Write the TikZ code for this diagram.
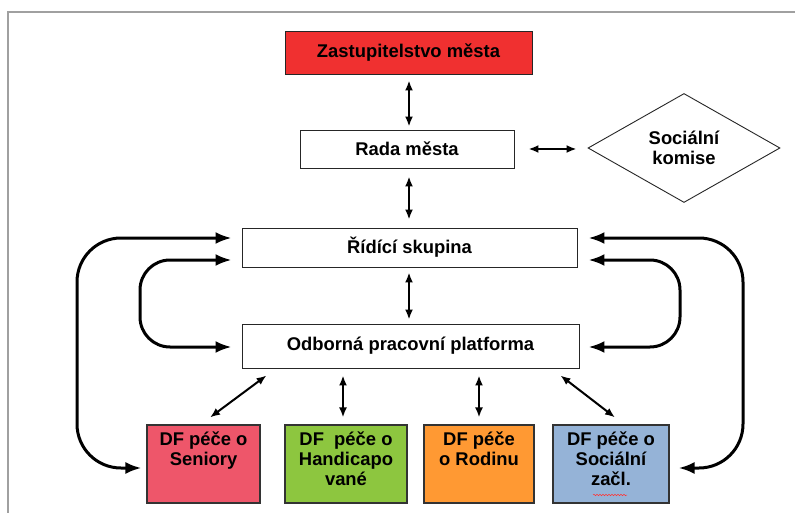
\documentclass[tikz,border=0pt]{standalone}
\usepackage{fontspec}
\setmainfont{Liberation Sans}
\usetikzlibrary{arrows.meta,shapes.geometric,calc,decorations.pathmorphing}
\definecolor{cRed}{RGB}{240,48,48}
\definecolor{cPink}{RGB}{238,86,106}
\definecolor{cGreen}{RGB}{141,198,63}
\definecolor{cOrange}{RGB}{255,153,51}
\definecolor{cBlue}{RGB}{149,179,215}
\definecolor{cFrame}{RGB}{160,160,160}
\begin{document}
\begin{tikzpicture}[x=1pt,y=-1pt,
  every node/.style={font=\fontsize{18.4}{20}\selectfont\bfseries},
  box/.style={draw=black!85, line width=0.9pt, inner sep=0pt, align=center},
  dfbox/.style={draw=black!80, line width=1.1pt, inner sep=0pt, minimum height=78pt},
  dftext/.style={anchor=north, inner sep=0pt, yshift=-7pt, align=center},
  sm/.style={line width=2pt, {Latex[length=10pt,width=8pt]}-{Latex[length=10pt,width=8pt]}},
  big/.style={line width=3pt, {Latex[length=16pt,width=12pt]}-{Latex[length=16pt,width=12pt]}}]
\useasboundingbox (0,0) rectangle (795,513);
\fill[white] (0,0) rectangle (795,513);
\draw[cFrame, line width=1.5pt] (795,12) -- (8,12) -- (8,513);

% main boxes
\node[box, fill=cRed, minimum width=247pt, minimum height=43pt] (zast) at (408.5,52.5) {Zastupitelstvo města};
\node[box, minimum width=214pt, minimum height=38pt] (rada) at (407,149) {Rada města};
\node[diamond, draw=black!85, line width=0.9pt, aspect=1.76, inner sep=0pt,
      minimum width=192pt, minimum height=109pt, align=center] (soc) at (684,148) {Sociální\\komise};
\node[box, minimum width=335pt, minimum height=39pt] (rid) at (409.5,247.5) {Řídící skupina};
\node[box, minimum width=337pt, minimum height=44pt] (odb) at (410.5,346) {Odborná pracovní platforma};

% bottom boxes
\node[dfbox, fill=cPink, minimum width=113pt] (sen) at (203.5,464) {};
\node[dfbox, fill=cGreen, minimum width=122pt] (han) at (346,464) {};
\node[dfbox, fill=cOrange, minimum width=110pt] (rod) at (479,464) {};
\node[dfbox, fill=cBlue, minimum width=116pt] (szac) at (611,464) {};
\node[dftext] (senT) at (sen.north) {DF péče o\\Seniory};
\node[dftext] (hanT) at (han.north) {DF\ \ péče o\\Handicapo\\vané};
\node[dftext] (rodT) at (rod.north) {DF péče\\o Rodinu};
\node[dftext] (szacT) at (szac.north) {DF péče o\\Sociální\\začl.};
\draw[red!80, line width=0.5pt, decorate, decoration={snake, amplitude=0.7pt, segment length=3pt}]
  ($(szac.center)+(-18,31)$) -- ($(szac.center)+(16,31)$);

% small arrows
\draw[sm] ($(zast.south)+(0.5,6)$) -- ($(zast.south|-rada.north)+(0.5,-3)$);
\draw[sm] ($(rada.south)+(2,8)$) -- ($(rid.north)+(-0.5,-8)$);
\draw[sm] ($(rid.south)+(-0.5,5)$) -- ($(odb.north)+(-1.5,-4)$);
\draw[sm] ($(rada.east)+(14,0)$) -- ($(soc.west)+(-11,1)$);
\draw[sm] ($(odb.south west)+(25,7)$) -- ($(sen.north)+(6.5,-7)$);
\draw[sm] ($(odb.south-|han.north)+(-3,7)$) -- ($(han.north)+(-3,-7)$);
\draw[sm] ($(odb.south-|rod.north)+(0,7)$) -- ($(rod.north)+(0,-7)$);
\draw[sm] ($(odb.south east)+(-19,7)$) -- ($(szac.north)+(4,-7)$);

% big curved arrows
\coordinate (a1) at ($(rid.west)+(-10,-9.5)$);
\coordinate (a2) at ($(sen.west)+(-5,4)$);
\coordinate (b1) at ($(rid.west)+(-10,12.5)$);
\coordinate (b2) at ($(odb.west)+(-10,1)$);
\coordinate (c1) at ($(rid.east)+(11,-9.5)$);
\coordinate (c2) at ($(szac.east)+(9,4)$);
\coordinate (d1) at ($(rid.east)+(11,12.5)$);
\coordinate (d2) at ($(odb.east)+(9,1)$);
\coordinate (oL) at (77,0);
\coordinate (iL) at (140,0);
\coordinate (oR) at (743,0);
\coordinate (iR) at (680,0);
\draw[big, rounded corners=44pt] (a1) -- (oL|-a1) -- (oL|-a2) -- (a2);
\draw[big, rounded corners=30pt] (b1) -- (iL|-b1) -- (iL|-b2) -- (b2);
\draw[big, rounded corners=44pt] (c1) -- (oR|-c1) -- (oR|-c2) -- (c2);
\draw[big, rounded corners=30pt] (d1) -- (iR|-d1) -- (iR|-d2) -- (d2);
\end{tikzpicture}
\end{document}
